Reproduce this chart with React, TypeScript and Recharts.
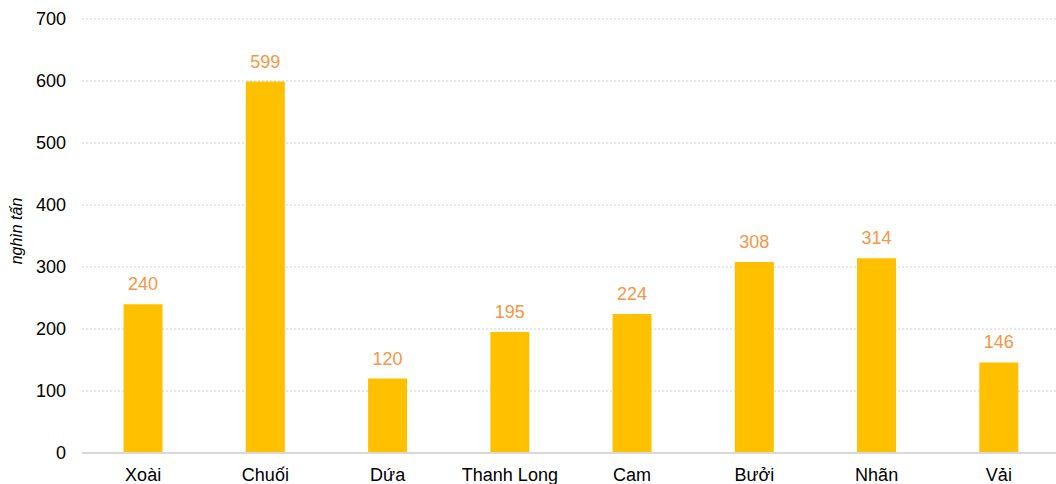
import React from 'react';
import { BarChart, Bar, XAxis, YAxis, CartesianGrid, LabelList, Label } from 'recharts';

const fruits = ['Xoài', 'Chuối', 'Dứa', 'Thanh Long', 'Cam', 'Bưởi', 'Nhãn', 'Vải'];
const output = [240, 599, 120, 195, 224, 308, 314, 146];
const yTicks = [0, 100, 200, 300, 400, 500, 600, 700];

const data = fruits.map((name, i) => ({ name, value: output[i] }));

const FONT = '"Liberation Sans", Arial, sans-serif';

const UnitLabel = () => (
  <text
    x={22}
    y={231}
    transform="rotate(-90 22 231)"
    textAnchor="middle"
    fontSize={16}
    fontStyle="italic"
    fontFamily={FONT}
    fill="#000"
  >
    nghìn tấn
  </text>
);

const App: React.FC = () => {
  return (
    <div
      style={{
        position: 'absolute',
        left: 0,
        top: 0,
        width: 1056,
        height: 484,
        overflow: 'hidden',
        background: '#fff',
        fontFamily: FONT,
      }}
    >
      <div
        style={{
          position: 'absolute',
          left: 0,
          width: 1060,
          top: -24,
          textAlign: 'center',
          fontSize: 18.7,
          lineHeight: '26px',
          fontWeight: 'bold',
          color: '#000',
        }}
      >
        Cây ăn quả chủ lực, năm 2023
      </div>
      <BarChart
        width={1060}
        height={484}
        data={data}
        margin={{ top: 19, right: 0, bottom: 0, left: 0 }}
        barCategoryGap="34%"
      >
        <CartesianGrid vertical={false} stroke="#d0d0d0" strokeDasharray="2 2" />
        <XAxis
          dataKey="name"
          height={31}
          tickLine={false}
          tickSize={0}
          tickMargin={15}
          axisLine={{ stroke: '#d9d9d9', strokeWidth: 2 }}
          tick={{ fontSize: 18, fill: '#000', fontFamily: FONT }}
          interval={0}
        />
        <YAxis
          width={82}
          domain={[0, 700]}
          ticks={yTicks}
          axisLine={false}
          tickLine={false}
          tickSize={0}
          tickMargin={16}
          tick={{ fontSize: 18, fill: '#000', fontFamily: FONT }}
        >
          <Label content={<UnitLabel />} />
        </YAxis>
        <Bar dataKey="value" fill="#FFC000" isAnimationActive={false}>
          <LabelList
            dataKey="value"
            position="top"
            offset={14}
            fill="#F79646"
            fontSize={18}
            fontFamily={FONT}
          />
        </Bar>
      </BarChart>
    </div>
  );
};

export default App;
